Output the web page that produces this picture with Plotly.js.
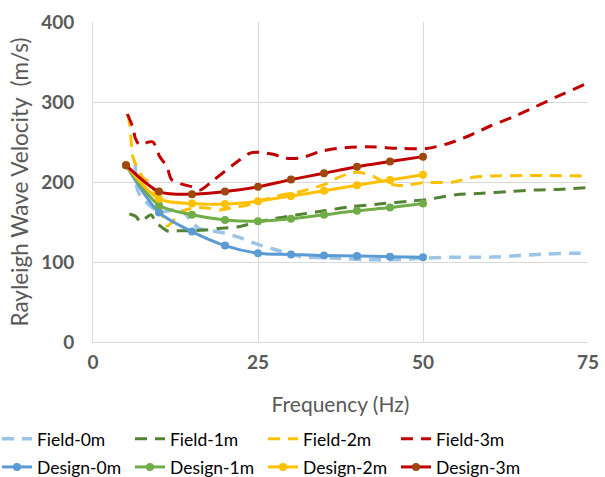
<!DOCTYPE html>
<html>
<head>
<meta charset="utf-8">
<script src="https://cdn.plot.ly/plotly-3.0.1.min.js"></script>
<style>html,body{margin:0;padding:0;background:#fff;}#chart{width:605px;height:477px;}</style>
</head>
<body>
<div id="chart"></div>
<script>
// Field measurements (dense, smoothed dashed curves)
const field0x = [6.4, 6.6, 7.0, 8.0, 9.0, 10.0, 11.0, 12.0, 13.0, 14.0, 15.0, 16.0, 17.2, 20.0, 22.0, 25.0, 27.8, 31.4, 36.4, 41.5, 46.5, 50.5, 55.0, 60.0, 64.7, 68.7, 72.8, 75.0];
const field0y = [222, 195, 185, 175, 168, 163, 163, 165, 167, 160, 150, 142, 140, 136, 131, 122, 115, 107, 105, 103, 103, 105, 106, 106, 108, 110, 111, 111];

const field1x = [5.5, 6.5, 7.2, 8.0, 8.8, 9.5, 10.5, 11.5, 13.0, 15.0, 17.0, 19.0, 22.0, 25.0, 28.0, 31.0, 35.0, 39.0, 44.0, 48.0, 50.5, 55.0, 59.0, 63.0, 67.0, 71.0, 75.0];
const field1y = [160, 157, 150, 155, 159, 150, 143, 138, 139, 139, 140, 142, 144, 150, 155, 159, 164, 169, 173, 176, 178, 184, 186, 188, 190, 191, 193];

const field2x = [5.3, 5.6, 5.9, 6.1, 7.6, 8.6, 9.1, 10.0, 11.2, 12.0, 12.7, 14.0, 16.0, 17.7, 19.2, 21.8, 23.3, 25.0, 28.8, 31.4, 35.4, 37.0, 39.0, 40.5, 42.5, 44.0, 46.0, 47.5, 50.0, 54.6, 57.6, 60.7, 65.0, 69.0, 75.0];
const field2y = [284, 269, 240, 230, 205, 200, 192, 175, 145, 150, 157, 165, 168, 167, 165, 169, 171, 176, 184, 188, 198, 205, 211, 212, 207, 200, 196, 196, 199, 200, 206, 207.5, 208, 208, 207.5];

const field3x = [5.2, 6.1, 6.4, 7.1, 8.4, 9.1, 10.1, 11.2, 11.9, 13.2, 15.0, 16.2, 18.2, 21.8, 23.8, 25.3, 27.6, 28.8, 31.4, 34.4, 36.9, 41.5, 46.5, 50.5, 53.6, 56.9, 60.2, 63.7, 67.0, 70.3, 74.5, 75.0];
const field3y = [285, 267, 255, 246, 250, 250, 232, 219, 203, 198, 194, 190, 202, 225, 236, 237, 234, 230, 230, 238, 242, 244, 242, 242, 247.5, 257.5, 270, 281.6, 294, 306.6, 322, 324];

// Design curves (markers every 5 Hz)
const designX = [5, 10, 15, 20, 25, 30, 35, 40, 45, 50];
const design0 = [221, 162, 138, 120.5, 111, 109.5, 108, 107.5, 106.7, 106];
const design1 = [221, 171, 159, 152.5, 151, 154, 159, 164, 168, 173];
const design2 = [221, 179, 173, 172.5, 176, 182.5, 189, 196, 202.5, 209];
const design3 = [221, 188, 184.6, 188, 194, 203, 211, 219, 225.5, 231.7];

const xTicks = [0, 25, 50, 75];
const yTicks = [0, 100, 200, 300, 400];

const dashPat = '12px,8px';
function fieldTrace(name, x, y, color, w) {
  return {x: x, y: y, name: name, type: 'scatter', mode: 'lines', legend: 'legend',
    line: {color: color, width: w, dash: dashPat, shape: 'spline', smoothing: 0.8}};
}
function designTrace(name, y, color, mcolor) {
  return {x: designX, y: y, name: name, type: 'scatter', mode: 'lines+markers', legend: 'legend2',
    line: {color: color, width: 3, shape: 'spline', smoothing: 0.8},
    marker: {color: mcolor, size: 8}};
}

const traces = [
  fieldTrace('Field-0m', field0x, field0y, '#9DC3E6', 3.5),
  fieldTrace('Field-1m', field1x, field1y, '#548235', 3),
  fieldTrace('Field-2m', field2x, field2y, '#FFC000', 3),
  fieldTrace('Field-3m', field3x, field3y, '#C00000', 3),
  designTrace('Design-0m', design0, '#5B9BD5', '#5B9BD5'),
  designTrace('Design-1m', design1, '#70AD47', '#70AD47'),
  designTrace('Design-2m', design2, '#FFC000', '#FFC000'),
  designTrace('Design-3m', design3, '#C00000', '#9E480E')
];

const legendBase = {
  orientation: 'h', xanchor: 'left', yanchor: 'top',
  entrywidth: 88, entrywidthmode: 'pixels',
  font: {size: 17.5, color: '#000000', family: 'Lato'},
  bgcolor: 'rgba(0,0,0,0)', borderwidth: 0
};

const layout = {
  width: 605, height: 477,
  margin: {l: 93, r: 17, t: 22, b: 135, autoexpand: false},
  paper_bgcolor: '#ffffff', plot_bgcolor: '#ffffff',
  font: {family: 'Lato, "Liberation Sans", sans-serif', color: '#595959'},
  showlegend: true,
  xaxis: {
    range: [0, 75], tickvals: xTicks, ticktext: xTicks.map(String),
    showgrid: true, gridcolor: '#D9D9D9', gridwidth: 1,
    showline: true, linecolor: '#D9D9D9', linewidth: 1,
    zeroline: false, ticks: 'outside', ticklen: 3, tickcolor: 'rgba(0,0,0,0)',
    tickfont: {size: 19, color: '#595959', family: 'Lato', weight: 'bold'},
    title: {text: 'Frequency (Hz)', font: {size: 21, color: '#595959', family: 'Lato'}, standoff: 25}
  },
  yaxis: {
    range: [0, 400], tickvals: yTicks, ticktext: yTicks.map(String),
    showgrid: true, gridcolor: '#D9D9D9', gridwidth: 1,
    showline: true, linecolor: '#D9D9D9', linewidth: 1,
    zeroline: false, ticks: 'outside', ticklen: 14, tickcolor: 'rgba(0,0,0,0)',
    tickfont: {size: 19, color: '#595959', family: 'Lato', weight: 'bold'},
    title: {text: 'Rayleigh Wave Velocity  (m/s)', font: {size: 22.5, color: '#595959', family: 'Lato'}, standoff: 6}
  },
  legend: Object.assign({}, legendBase, {x: -0.194, y: -0.2466}),
  legend2: Object.assign({}, legendBase, {x: -0.194, y: -0.3345})
};

Plotly.newPlot('chart', traces, layout, {displayModeBar: false, staticPlot: true});
</script>
</body>
</html>
